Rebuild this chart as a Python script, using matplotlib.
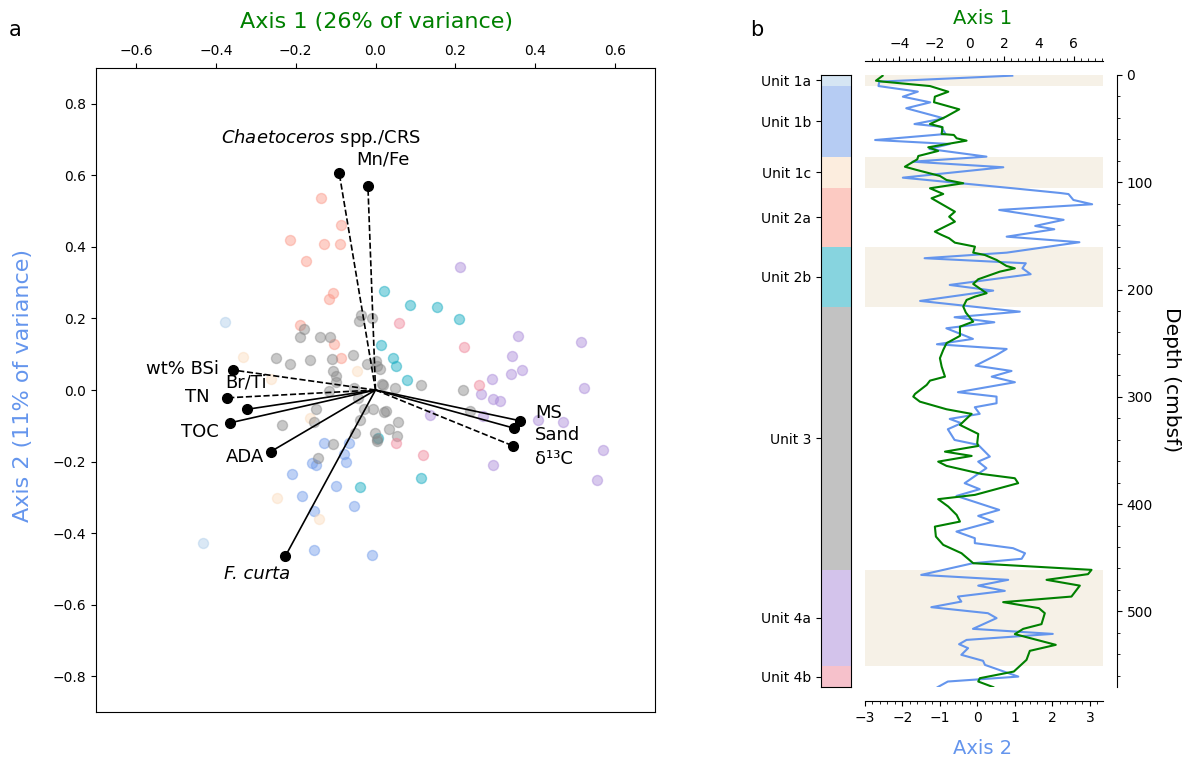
import numpy as np
import matplotlib
matplotlib.use('Agg')
import matplotlib.pyplot as plt
from matplotlib.ticker import AutoMinorLocator, MultipleLocator

# ---- panel a: PCA scores per unit ----
units = ['Unit 1a', 'Unit 1b', 'Unit 1c', 'Unit 2a', 'Unit 2b', 'Unit 3', 'Unit 4a', 'Unit 4b']
unit_colors = ['#adcde9', '#6f9ae9', '#fbdcbe', '#fb9787', '#10aac0', '#878787', '#a989d9', '#ef8599']

scores = {
    'Unit 1a': [(-0.377, 0.189), (-0.432, -0.429)],
    'Unit 1b': [(-0.129, -0.148), (-0.066, -0.147), (-0.078, -0.179), (-0.073, -0.200), (-0.159, -0.204),
                (-0.148, -0.210), (-0.210, -0.234), (-0.100, -0.267), (-0.183, -0.297), (-0.155, -0.338),
                (-0.054, -0.324), (-0.155, -0.447), (-0.009, -0.462)],
    'Unit 1c': [(-0.332, 0.092), (-0.047, 0.054), (-0.262, 0.031), (-0.165, -0.079), (-0.246, -0.301),
                (-0.142, -0.360)],
    'Unit 2a': [(-0.136, 0.537), (-0.086, 0.460), (-0.213, 0.419), (-0.129, 0.408), (-0.088, 0.408),
                (-0.173, 0.360), (-0.106, 0.272), (-0.117, 0.253), (-0.189, 0.183), (-0.105, 0.129),
                (-0.086, 0.089)],
    'Unit 2b': [(0.021, 0.277), (0.087, 0.237), (0.155, 0.233), (0.209, 0.199), (0.015, 0.126),
                (0.044, 0.090), (0.051, 0.068), (0.080, 0.029), (0.006, -0.134), (0.114, -0.247),
                (-0.039, -0.271)],
    'Unit 3': [(-0.180, 0.170), (-0.036, 0.211), (-0.042, 0.193), (-0.008, 0.202), (-0.190, 0.147),
               (-0.140, 0.149), (-0.114, 0.149), (-0.249, 0.090), (-0.215, 0.073), (-0.165, 0.085),
               (-0.109, 0.086), (-0.057, 0.097), (-0.021, 0.073), (0.002, 0.080), (0.012, 0.058),
               (-0.106, 0.053), (-0.098, 0.040), (-0.098, 0.021), (-0.054, 0.006), (-0.117, -0.003),
               (0.016, 0.016), (-0.044, -0.022), (-0.149, -0.053), (-0.030, -0.053), (-0.007, -0.053),
               (0.022, -0.061), (-0.154, -0.090), (-0.233, -0.099), (-0.038, -0.083), (-0.002, -0.120),
               (-0.106, -0.150), (0.004, -0.137), (0.115, 0.013), (0.218, -0.001), (0.049, 0.006),
               (0.236, -0.059), (0.026, -0.059), (0.057, -0.090), (0.034, -0.109), (0.054, -0.128),
               (0.004, -0.143), (-0.051, -0.119), (-0.145, -0.191), (0.003, 0.068), (0.019, 0.015)],
    'Unit 4a': [(0.212, 0.344), (0.356, 0.152), (0.515, 0.133), (0.341, 0.096), (0.339, 0.045),
                (0.366, 0.056), (0.292, 0.032), (0.523, 0.006), (0.263, -0.010), (0.295, -0.025),
                (0.313, -0.030), (0.269, -0.072), (0.136, -0.069), (0.406, -0.083), (0.469, -0.090),
                (0.570, -0.168), (0.294, -0.211), (0.554, -0.251)],
    'Unit 4b': [(0.058, 0.186), (0.221, 0.121), (0.258, 0.013), (0.052, -0.148), (0.118, -0.182)],
}

# loadings (arrow tips)
var_names = ['Chaetoceros', 'Mn/Fe', 'wt% BSi', 'Br/Ti', 'TN', 'TOC', 'ADA', 'F. curta', 'MS', 'Sand', 'd13C']
var_x = [-0.091, -0.019, -0.358, -0.322, -0.373, -0.365, -0.262, -0.226, 0.362, 0.348, 0.344]
var_y = [0.607, 0.571, 0.056, -0.054, -0.022, -0.092, -0.172, -0.465, -0.086, -0.107, -0.156]
var_dashed = [True, True, True, False, True, False, False, False, False, False, True]

# ---- panel b: scores down core ----
axis1_depth = [0.7, 5.3, 6.2, 10.3, 15.6, 20.2, 25.4, 32.0, 38.9, 45.7, 48.7, 55.0, 55.9, 59.0, 61.2,
               67.4, 70.8, 75.5, 78.6, 85.5, 88.5, 94.1, 97.9, 100.9, 105.6, 110.9, 114.9, 127.4, 132.1,
               136.7, 146.0, 149.1, 152.2, 156.3, 160.0, 165.6, 167.8, 172.4, 178.0, 180.2, 183.3, 190.4,
               194.8, 203.4, 206.6, 209.7, 215.9, 221.5, 229.9, 234.6, 243.2, 250.0, 256.3, 264.0, 271.9,
               281.2, 284.9, 288.9, 297.3, 299.8, 304.5, 311.6, 315.9, 326.2, 334.6, 343.2, 345.8, 351.1,
               355.1, 360.4, 364.4, 371.9, 375.9, 380.5, 391.4, 395.4, 402.3, 410.1, 416.3, 421.0, 430.3,
               438.0, 445.8, 455.1, 461.3, 465.3, 470.6, 476.0, 486.2, 491.4, 497.0, 501.7, 511.9, 516.3,
               521.2, 531.2, 536.8, 545.2, 556.1, 562.3, 565.4, 570.6]
axis1_score = [-4.97, -5.35, -4.93, -2.25, -1.20, -1.97, -2.02, -0.57, -1.34, -2.25, -1.53, -1.58, -0.88,
               -0.72, -0.15, -2.35, -1.78, -2.92, -2.98, -3.69, -3.02, -1.68, -1.30, -0.34, -2.25, -1.49,
               -2.16, -0.82, -1.15, -0.82, -1.97, -1.58, -1.15, -0.82, 0.33, 0.23, 0.90, 1.57, 2.14, 2.62,
               1.76, 0.52, 0.23, 1.00, 0.33, -0.15, -0.34, -0.19, 0.23, -0.53, -0.53, -1.30, -1.49, -1.68,
               -1.58, -1.39, -2.25, -2.44, -3.11, -3.21, -2.83, -1.30, 0.14, -0.53, 0.52, 0.46, 0.52, -1.39,
               0.14, -1.78, -1.30, 0.71, 2.62, 2.81, 0.33, -1.78, -1.20, -0.72, -0.53, -1.97, -1.91, -1.49,
               -0.44, 0.23, 7.02, 6.82, 4.44, 6.35, 5.87, 1.95, 4.00, 4.34, 4.15, 3.10, 2.62, 4.97, 3.48,
               3.29, 2.56, 0.61, 0.52, 1.38]

axis2_depth = [0.6, 6.2, 10.3, 15.5, 20.2, 25.5, 31.0, 40.4, 45.7, 48.2, 55.0, 60.6, 64.3, 69.0, 76.1,
               80.8, 86.0, 95.7, 105.6, 110.0, 111.0, 116.5, 120.5, 125.8, 135.0, 140.7, 143.8, 150.7,
               155.9, 165.6, 170.8, 175.5, 180.2, 185.7, 195.7, 201.0, 210.6, 220.6, 225.8, 230.5, 236.1,
               246.0, 251.0, 255.4, 261.0, 270.9, 275.9, 281.2, 286.4, 295.7, 299.8, 306.0, 309.7, 315.9,
               320.6, 324.6, 330.2, 340.2, 344.8, 355.7, 360.4, 366.5, 380.5, 386.1, 392.4, 405.4, 411.0,
               416.3, 425.6, 431.8, 436.4, 441.1, 445.8, 451.0, 455.1, 466.0, 470.6, 476.0, 480.9, 486.2,
               490.9, 496.1, 501.7, 506.3, 516.3, 521.0, 526.6, 530.6, 534.3, 540.5, 546.1, 549.9, 560.8,
               565.4, 570.6]
axis2_score = [0.93, -2.62, -2.64, -1.59, -1.99, -1.26, -1.90, -0.90, -1.68, -0.97, -0.85, -2.73, -0.74,
               -1.28, 0.24, -1.73, 0.69, -1.99, 0.95, 2.21, 2.43, 2.56, 3.06, 0.58, 2.30, 1.54, 2.05, 0.78,
               2.72, 0.78, -1.41, 1.29, 1.20, 1.42, -0.74, 0.42, -1.53, 1.13, -0.61, 0.45, -0.83, -0.12,
               -1.08, 0.78, 0.51, -0.05, 0.91, 0.38, 1.00, -0.52, 0.51, 0.51, -0.07, 0.06, -0.74, -0.43,
               -0.79, -0.61, 0.02, 0.33, 0.02, 0.24, -0.34, 0.06, -0.56, 0.58, 0.02, 0.42, -0.56, -0.07,
               -0.07, 0.95, 1.27, 1.18, -0.12, -1.50, 0.82, 0.02, 0.73, -0.52, -0.43, -1.23, 0.28, 0.51,
               -0.12, 2.01, -0.29, -0.49, -0.25, -0.43, 0.15, 0.20, 1.09, -0.79, -1.06]

unit_top = [0, 10, 76, 105, 160, 216, 461, 551]
unit_bottom = [10, 76, 105, 160, 216, 461, 551, 570.5]
shaded = [(0, 10), (76, 105), (160, 216), (461, 551)]

green = 'green'
blue = '#6495ED'

fig = plt.figure(figsize=(11.82, 7.64), dpi=100)

# ---------------- panel a ----------------
ax = fig.add_axes([96 / 1182, 52 / 764, 559 / 1182, 644 / 764])
for u, c in zip(units, unit_colors):
    pts = np.array(scores[u])
    ax.scatter(pts[:, 0], pts[:, 1], s=52, color=c, alpha=0.45, edgecolors=c, linewidths=1, zorder=2)

for name, x, y, d in zip(var_names, var_x, var_y, var_dashed):
    ax.plot([0, x], [0, y], color='black', lw=1.2, ls='--' if d else '-', zorder=3)
    ax.plot(x, y, 'o', color='black', ms=7, zorder=4)

fs = 13
ax.text(-0.387, 0.703, r'$\it{Chaetoceros}$ spp./CRS', fontsize=fs, ha='left', va='center')
ax.text(-0.047, 0.644, 'Mn/Fe', fontsize=fs, ha='left', va='center')
ax.text(-0.392, 0.059, 'wt% BSi', fontsize=fs, ha='right', va='center')
ax.text(-0.377, 0.020, 'Br/Ti', fontsize=fs, ha='left', va='center')
ax.text(-0.416, -0.020, 'TN', fontsize=fs, ha='right', va='center')
ax.text(-0.392, -0.118, 'TOC', fontsize=fs, ha='right', va='center')
ax.text(-0.279, -0.188, 'ADA', fontsize=fs, ha='right', va='center')
ax.text(-0.297, -0.513, 'F. curta', fontsize=fs, ha='center', va='center', style='italic')
ax.text(0.399, -0.064, 'MS', fontsize=fs, ha='left', va='center')
ax.text(0.399, -0.126, 'Sand', fontsize=fs, ha='left', va='center')
ax.text(0.399, -0.193, 'δ¹³C', fontsize=fs, ha='left', va='center')

ax.set_xlim(-0.7, 0.7)
ax.set_ylim(-0.9, 0.9)
ax.xaxis.tick_top()
ax.set_xticks(np.round(np.arange(-0.6, 0.61, 0.2), 1))
ax.set_yticks(np.round(np.arange(-0.8, 0.81, 0.2), 1))
ax.tick_params(labelsize=10)

fig.text(377 / 1182, 1 - 22 / 764, 'Axis 1 (26% of variance)', color=green, fontsize=16, ha='center', va='center')
fig.text(23 / 1182, 1 - 386 / 764, 'Axis 2 (11% of variance)', color=blue, fontsize=16, ha='center', va='center',
         rotation=90)
fig.text(15 / 1182, 1 - 30 / 764, 'a', fontsize=15, ha='center', va='center')
fig.text(757 / 1182, 1 - 30 / 764, 'b', fontsize=15, ha='center', va='center')

# ---------------- panel b: unit column ----------------
axu = fig.add_axes([821 / 1182, 77 / 764, 30 / 1182, 612 / 764])
for t, b, c in zip(unit_top, unit_bottom, unit_colors):
    axu.axhspan(t, b, color=c, alpha=0.5, lw=0)
axu.set_ylim(570.5, 0)
axu.set_xlim(0, 1)
axu.set_xticks([])
axu.set_yticks([(t + b) / 2 for t, b in zip(unit_top, unit_bottom)])
axu.set_yticklabels(units, fontsize=10)

# ---------------- panel b: curves ----------------
axb = fig.add_axes([865 / 1182, 77 / 764, 238 / 1182, 612 / 764])
for t, b in shaded:
    axb.axhspan(t, b, color='#f6f1e7', lw=0, zorder=0)
axb.plot(axis2_score, axis2_depth, color=blue, lw=1.5, zorder=2)
axb.set_xlim(-3, 3.35)
axb.set_ylim(570.5, 0)
axb.xaxis.set_major_locator(MultipleLocator(1))
axb.xaxis.set_minor_locator(AutoMinorLocator(5))
axb.yaxis.set_major_locator(MultipleLocator(100))
axb.yaxis.set_minor_locator(AutoMinorLocator(5))
axb.yaxis.tick_right()
axb.spines['left'].set_visible(False)
axb.spines['top'].set_visible(False)
axb.spines['bottom'].set_position(('outward', 10))
axb.spines['right'].set_position(('outward', 10))
axb.tick_params(labelsize=10)

axt = axb.twiny()
axt.plot(axis1_score, axis1_depth, color=green, lw=1.5, zorder=3)
axt.set_xlim(-5.98, 7.68)
axt.xaxis.set_major_locator(MultipleLocator(2))
axt.xaxis.set_minor_locator(AutoMinorLocator(5))
for s in ['left', 'right', 'bottom']:
    axt.spines[s].set_visible(False)
axt.spines['top'].set_position(('outward', 10))
axt.tick_params(labelsize=10)

fig.text(983 / 1182, 1 - 18 / 764, 'Axis 1', color=green, fontsize=14, ha='center', va='center')
fig.text(983 / 1182, 1 - 748 / 764, 'Axis 2', color=blue, fontsize=14, ha='center', va='center')
fig.text(1172 / 1182, 1 - 380 / 764, 'Depth (cmbsf)', fontsize=14.5, ha='center', va='center', rotation=270)

fig.savefig('out.png', dpi=100)
